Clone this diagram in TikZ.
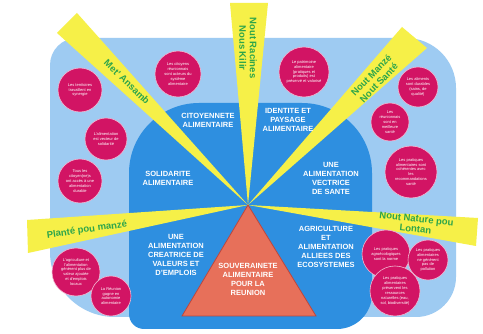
\documentclass[tikz,border=0pt]{standalone}
\usepackage{fontspec}
\setmainfont{Liberation Sans}
\definecolor{lightbl}{RGB}{158,203,242}
\definecolor{darkbl}{RGB}{46,143,224}
\definecolor{rayyellow}{RGB}{246,240,72}
\definecolor{raygreen}{RGB}{45,165,75}
\definecolor{bubble}{RGB}{210,20,100}
\definecolor{trifill}{RGB}{231,112,90}
\definecolor{triedge}{RGB}{190,70,60}
\begin{document}
\begin{tikzpicture}[x=1pt,y=-1pt,
  lab/.style={font=\fontsize{7.5}{9}\selectfont\bfseries, text=white, align=center, inner sep=0},
  ray/.style={fill=rayyellow, draw=none},
  raytxt/.style={font=\fontsize{9.5}{10.5}\selectfont\bfseries, text=raygreen, align=center, inner sep=0},
  bub/.style={circle, fill=bubble, draw=white!70!bubble, line width=0.6pt, minimum size=#1, inner sep=0},
  btxt/.style={font=\fontsize{4}{4.9}\selectfont, text=white, align=center, inner sep=0},
]
\fill[white] (0,0) rectangle (483,334);
\useasboundingbox (0,0) rectangle (483,334);

% light blue frame
\fill[lightbl] (50,252) -- (50,65) arc[start angle=180, end angle=270, radius=27]
  -- (406,38) arc[start angle=270, end angle=360, radius=50]
  -- (456,277) arc[start angle=0, end angle=90, radius=40]
  -- (115,317) arc[start angle=90, end angle=180, radius=65] -- cycle;

% dark blue area
\fill[darkbl] (129,314) -- (129,173) arc[start angle=180, end angle=270, radius=70]
  -- (302,103) arc[start angle=270, end angle=360, radius=70]
  -- (372,294) arc[start angle=0, end angle=90, radius=35]
  -- (144,329) arc[start angle=90, end angle=180, radius=15] -- cycle;

% rays
\coordinate (A) at (248,205);
\coordinate (r1a) at (57,33);  \coordinate (r1b) at (77,13);
\coordinate (r2a) at (230,3);  \coordinate (r2b) at (268,3);
\coordinate (r3a) at (402,27); \coordinate (r3b) at (427,48);
\coordinate (r4a) at (478,218);\coordinate (r4b) at (476,246);
\coordinate (r5a) at (27,220); \coordinate (r5b) at (28,253);
\fill[ray] (A) -- (r1a) -- (r1b) -- cycle;
\fill[ray] (A) -- (r2a) -- (r2b) -- cycle;
\fill[ray] (A) -- (r3a) -- (r3b) -- cycle;
\fill[ray] (A) -- (r4a) -- (r4b) -- cycle;
\fill[ray] (A) -- (r5a) -- (r5b) -- cycle;

\node[raytxt, rotate=-44] (t1) at (127,82) {Met' Ansamb};
\node[raytxt, rotate=-90] (t2) at (248,48) {Nout Racines\\Nous Kilir};
\node[raytxt, rotate=46] (t3) at (375,79) {Nout Manzé\\Nout Santé};
\node[raytxt, rotate=-6] (t4) at (416,224) {Nout Nature pou\\Lontan};
\node[raytxt, rotate=8] (t5) at (87,230) {Planté pou manzé};

% triangle
\fill[trifill, draw=triedge, line width=0.8pt] (A) -- (316,316) -- (182,316) -- cycle;
\node[lab] (sov) at (248,279) {SOUVERAINETE\\ALIMENTAIRE\\POUR LA\\REUNION};

% region labels
\node[lab] (cit) at (208,120) {CITOYENNETE\\ALIMENTAIRE};
\node[lab] (ide) at (288,120) {IDENTITE ET\\PAYSAGE\\ALIMENTAIRE};
\node[lab] (sol) at (168,178) {SOLIDARITE\\ALIMENTAIRE};
\node[lab] (san) at (331,178) {UNE\\ALIMENTATION\\VECTRICE\\DE SANTE};
\node[lab] (val) at (176,255) {UNE\\ALIMENTATION\\CREATRICE DE\\VALEURS ET\\D'EMPLOIS};
\node[lab] (eco) at (326,247) {AGRICULTURE\\ET\\ALIMENTATION\\ALLIEES DES\\ECOSYSTEMES};

% bubbles
\node[bub=44] (c1) at (80,90) {};
\node[btxt] at (c1) {Les territoires\\travaillent en\\synergie};
\node[bub=42] (c2) at (106,139) {};
\node[btxt] at (c2) {L'alimentation\\est vecteur de\\solidarité};
\node[bub=44] (c3) at (80,181) {};
\node[btxt] at (c3) {Tous les\\citoyen(ne)s\\ont accès à une\\alimentation\\durable};
\node[bub=46] (c4) at (178,74) {};
\node[btxt] at (c4) {Les citoyens\\réunionnais\\sont acteurs du\\système\\alimentaire};
\node[bub=50] (c5) at (304,72) {};
\node[btxt] at (c5) {Le patrimoine\\alimentaire\\(pratiques et\\produits) est\\préservé et valorisé};
\node[bub=40] (c6) at (418,87) {};
\node[btxt] at (c6) {Les aliments\\sont durables\\(sains, de\\qualité)};
\node[bub=38] (c7) at (390,122) {};
\node[btxt] at (c7) {Les\\réunionnais\\sont en\\meilleure\\santé};
\node[bub=52] (c8) at (411,172) {};
\node[btxt] at (c8) {Les pratiques\\alimentaires sont\\cohérentes avec\\les\\recommandations\\santé};
\node[bub=48] (c9) at (76,272) {};
\node[btxt] at (c9) {L'agriculture et\\l'alimentation\\génèrent plus de\\valeur ajoutée\\et d'emplois\\locaux};
\node[bub=40] (c10) at (111,296) {};
\node[btxt] at (c10) {La Réunion\\gagne en\\autonomie\\alimentaire};
\node[bub=48] (c11) at (386,254) {};
\node[btxt] at (c11) {Les pratiques\\agroécologiques\\sont la norme};
\node[bub=40] (c12) at (428,260) {};
\node[btxt] at (c12) {Les pratiques\\alimentaires\\ne génèrent\\pas de\\pollution};
\node[bub=50] (c13) at (395,291) {};
\node[btxt] at (c13) {Les pratiques\\alimentaires\\préservent les\\ressources\\naturelles (eau,\\sol, biodiversité)};
\end{tikzpicture}
\end{document}
